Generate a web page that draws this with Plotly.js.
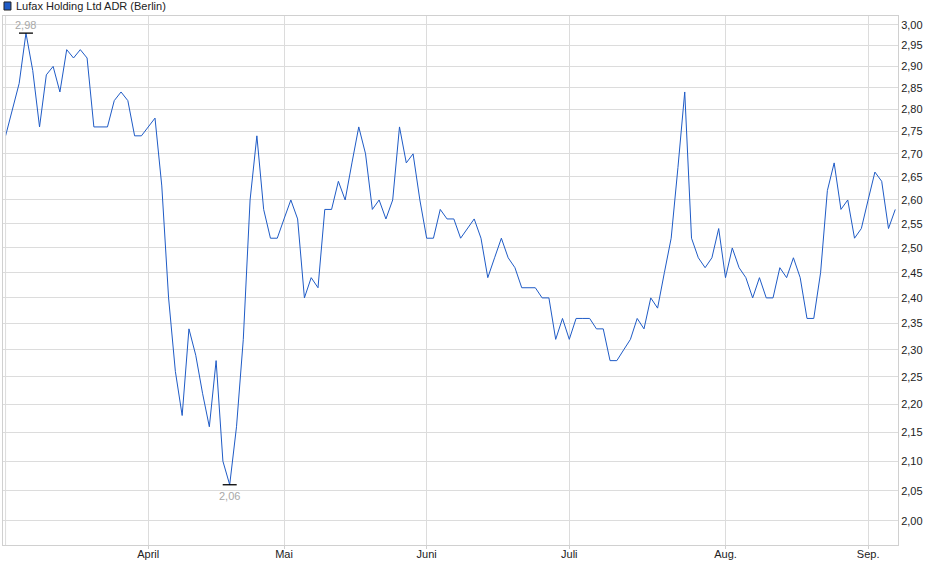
<!DOCTYPE html>
<html>
<head>
<meta charset="utf-8">
<script src="https://cdn.plot.ly/plotly-3.0.1.min.js"></script>
<style>
html,body{margin:0;padding:0;background:#fff;}
#chart{width:940px;height:579px;}
</style>
</head>
<body>
<div id="chart"></div>
<script>
// ---- data ----
const seriesName = "Lufax Holding Ltd ADR (Berlin)";
const marDays = [3,4,5,6,7,10,11,12,13,14,17,18,19,20,21,24,25,26,27,28,31];
const aprDays = [1,2,3,4,7,8,9,10,11,14,15,16,17,22,23,24,25,28,29,30];
const mayDays = [2,5,6,7,8,9,12,13,14,15,16,19,20,21,22,23,26,27,28,29,30];
const junDays = [2,3,4,5,6,9,10,11,12,13,16,17,18,19,20,23,24,25,26,27,30];
const julDays = [1,2,3,4,7,8,9,10,11,14,15,16,17,18,21,22,23,24,25,28,29,30,31];
const augDays = [1,4,5,6,7,8,11,12,13,14,15,18,19,20,21,22,25,26,27,28,29];
const sepDays = [1,2,3,4,5];

const prices = [
  2.74,2.80,2.86,2.98,2.89,2.76,2.88,2.90,2.84,2.94,2.92,2.94,2.92,2.76,2.76,2.76,2.82,2.84,2.82,2.74,2.74,
  2.76,2.78,2.63,2.40,2.26,2.18,2.34,2.29,2.22,2.16,2.28,2.10,2.06,2.16,2.32,2.60,2.74,2.58,2.52,2.52,
  2.56,2.60,2.56,2.40,2.44,2.42,2.58,2.58,2.64,2.60,2.68,2.76,2.70,2.58,2.60,2.56,2.60,2.76,2.68,2.70,2.60,
  2.52,2.52,2.58,2.56,2.56,2.52,2.54,2.56,2.52,2.44,2.48,2.52,2.48,2.46,2.42,2.42,2.42,2.40,2.40,2.32,2.36,
  2.32,2.36,2.36,2.36,2.34,2.34,2.28,2.28,2.30,2.32,2.36,2.34,2.40,2.38,2.45,2.52,2.67,2.84,2.52,2.48,2.46,2.48,2.54,
  2.44,2.50,2.46,2.44,2.40,2.44,2.40,2.40,2.46,2.44,2.48,2.44,2.36,2.36,2.45,2.62,2.68,2.58,2.60,2.52,2.54,
  2.60,2.66,2.64,2.54,2.58
];

const monthTickDates = ["2025-04-01","2025-05-02","2025-06-02","2025-07-01","2025-08-01","2025-09-01"];
const monthTickLabels = ["April","Mai","Juni","Juli","Aug.","Sep."];
const yTickVals = [2.00,2.05,2.10,2.15,2.20,2.25,2.30,2.35,2.40,2.45,2.50,2.55,2.60,2.65,2.70,2.75,2.80,2.85,2.90,2.95,3.00];

// ---- build dates ----
function pad(n){return (n<10?"0":"")+n;}
const months = [[3,marDays],[4,aprDays],[5,mayDays],[6,junDays],[7,julDays],[8,augDays],[9,sepDays]];
const dates = [];
months.forEach(([m,days])=>days.forEach(d=>dates.push("2025-"+pad(m)+"-"+pad(d))));

let iMax=0,iMin=0;
prices.forEach((v,i)=>{ if(v>prices[iMax]) iMax=i; if(v<prices[iMin]) iMin=i; });

const lineColor = "#1f5bc6";
const font = "Liberation Sans, Arial, sans-serif";

const traces = [
  {x:dates, y:prices, type:"scatter", mode:"lines", line:{color:lineColor,width:1}, hoverinfo:"x+y", name:seriesName},
  {x:[dates[iMax],dates[iMin]], y:[prices[iMax],prices[iMin]], type:"scatter", mode:"markers",
   marker:{symbol:"line-ew", size:10, color:"#000", line:{width:1.3,color:"#000"}}, hoverinfo:"skip"}
];

const fmt = v => v.toFixed(2).replace(".",",");

const layout = {
  width:940, height:579,
  margin:{l:3, r:42, t:16, b:34},
  paper_bgcolor:"#fff", plot_bgcolor:"#fff",
  showlegend:false,
  separators:",.",
  font:{family:font, size:11, color:"#222"},
  xaxis:{
    type:"category",
    categoryorder:"array", categoryarray:dates,
    range:[-0.38, dates.length-1+0.4],
    tickvals:monthTickDates, ticktext:monthTickLabels,
    showgrid:true, gridcolor:"#dcdcdc", gridwidth:1,
    showline:true, linecolor:"#d0d0d0", linewidth:1, mirror:true,
    ticks:"outside", ticklen:3, tickcolor:"#d0d0d0",
    ticklabelstandoff:-4,
    tickfont:{family:font, size:11, color:"#222"},
    zeroline:false, fixedrange:true
  },
  yaxis:{
    type:"log",
    range:[Math.log10(1.961), Math.log10(3.022)],
    side:"right",
    tickvals:yTickVals, tickformat:".2f",
    showgrid:true, gridcolor:"#dcdcdc", gridwidth:1,
    showline:true, linecolor:"#d0d0d0", linewidth:1, mirror:true,
    ticks:"", ticklen:0,
    tickfont:{family:font, size:11, color:"#222"},
    zeroline:false, fixedrange:true
  },
  shapes:[
    {type:"rect", xref:"paper", yref:"paper", x0:0.0011, x1:0.0089, y0:1.0113, y1:1.0265,
     fillcolor:lineColor, line:{color:"#222", width:1}},
    {type:"line", xref:"x", yref:"paper", x0:0, x1:0, y0:0, y1:1, line:{color:"#dcdcdc", width:1}}
  ],
  annotations:[
    {xref:"paper", yref:"paper", x:0.0125, y:1.0189, xanchor:"left", yanchor:"middle",
     text:seriesName, showarrow:false, font:{family:font, size:11, color:"#222"}},
    {x:dates[iMax], y:Math.log10(prices[iMax]), text:fmt(prices[iMax]), showarrow:false,
     yshift:8, font:{family:font, size:11, color:"#a8a8a8"}},
    {x:dates[iMin], y:Math.log10(prices[iMin]), text:fmt(prices[iMin]), showarrow:false,
     yshift:-11, font:{family:font, size:11, color:"#a8a8a8"}}
  ]
};

Plotly.newPlot("chart", traces, layout, {staticPlot:true, displayModeBar:false});
</script>
</body>
</html>
